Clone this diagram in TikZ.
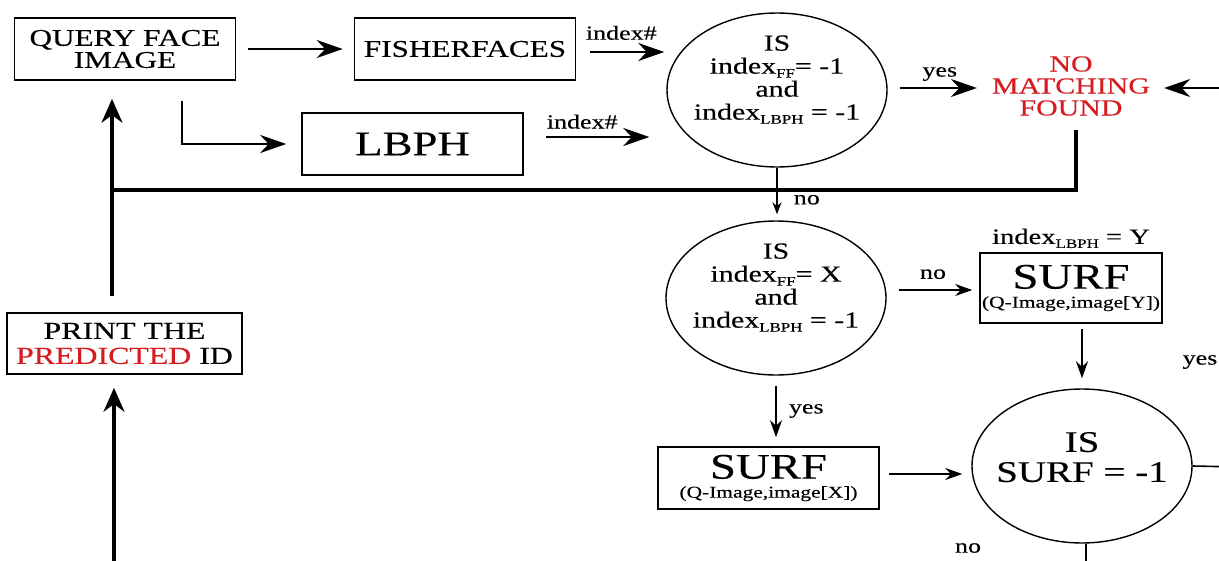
\documentclass[tikz,border=0pt]{standalone}
\usepackage{fontspec}
\setmainfont{Liberation Serif}[FakeStretch=1.3, FakeBold=0.3]
\usetikzlibrary{arrows.meta, shapes.geometric}
\definecolor{alertred}{RGB}{214,28,32}
\newcommand{\fs}[2]{\fontsize{#1}{#2}\selectfont}
\newcommand{\sub}[1]{\raisebox{-4pt}{\fs{13}{13}#1}}

\tikzset{
  box/.style={draw, line width=1.6pt, minimum width=221pt, minimum height=62pt, inner sep=0pt, align=center},
  decision/.style={draw, ellipse, line width=1.4pt, minimum width=220pt, minimum height=154pt, inner xsep=-14pt, inner ysep=-8pt, align=center, font=\fs{23}{23}},
  bigarr/.style={-{Stealth[length=26pt,width=18pt]}, line width=2.6pt},
  arr/.style={-{Stealth[length=17pt,width=12pt]}, line width=2pt},
  tinyarr/.style={-{Stealth[length=12pt,width=9pt]}, line width=1.6pt},
  backline/.style={line width=3.5pt},
  backarr/.style={backline, -{Stealth[length=24pt,width=21pt]}},
  lbl/.style={font=\fs{20}{20}, inner sep=3pt},
}

\begin{document}
\begin{tikzpicture}[x=1pt, y=-1pt]
\useasboundingbox (0,0) rectangle (1219,560);

% top row: query and the two recognisers
\node[box, font=\fs{24}{22}] (query) at (125,49) {QUERY FACE\\IMAGE};
\node[box, font=\fs{24}{24}] (fisher) at (465,49) {FISHERFACES};
\node[box, font=\fs{34.5}{34}] (lbph) at (412.5,144) {LBPH};
\node[decision] (dec1) at (777,90) {IS\\index\sub{FF}= -1\\and\\index\sub{LBPH} = -1\\[2pt]\mbox{}};
\node[font=\fs{23}{22}, text=alertred, align=center, inner sep=0pt] (nomatch) at (1071,86) {NO\\MATCHING\\FOUND};

% lower part: SURF checks
\node[decision] (dec2) at (776,298) {IS\\index\sub{FF}= X\\and\\index\sub{LBPH} = -1\\[2pt]\mbox{}};
\node[box, minimum width=182pt, minimum height=70pt, font=\fs{16.5}{19}] (surfY) at (1071,288) {{\fs{36}{36}SURF}\\(Q-Image,image[Y])};
\node[inner sep=0pt, anchor=south, font=\fs{22}{22}] (idxY) at ([yshift=4pt]surfY.north) {index\sub{LBPH} = Y};
\node[decision, font=\fs{30}{30}] (dec3) at (1082,466) {IS\\SURF = -1\\[-12pt]\mbox{}};
\node[box, font=\fs{16.5}{19}] (surfX) at (768.5,478) {{\fs{36}{36}SURF}\\(Q-Image,image[X])};

% left column
\node[box, minimum width=235pt, minimum height=61pt, font=\fs{24.5}{25}] (print) at (124.5,343.5) {PRINT THE\\\textcolor{alertred}{PREDICTED} ID};

% loose ends running off the page
\coordinate (fbr) at (1076,190);
\coordinate (fbl) at (112,190);
\coordinate (rin) at (1240,88);
\coordinate (rout) at (1240,467);
\coordinate (pin) at (114,580);
\coordinate (dbot) at (1086,580);

% connectors in the top row
\draw[bigarr, shorten <=12pt, shorten >=11pt] (query) -- (fisher);
\draw[bigarr, shorten <=20pt, shorten >=15pt] ([xshift=57pt]query.south) |- (lbph.west);
\draw[bigarr, line width=2.2pt, shorten <=14pt, shorten >=2pt] ([yshift=-3pt]fisher.east) -- ([yshift=-3pt]fisher.east -| dec1.west) node[lbl, midway, above=8pt] {index\#};
\draw[bigarr, shorten <=22pt, shorten >=17pt] ([yshift=7pt]lbph.east) -- ([yshift=7pt]lbph.east -| dec1.west) node[lbl, pos=0.41, above=4pt] {index\#};
\draw[bigarr, line width=2.2pt, shorten <=12pt, shorten >=15pt] ([yshift=2pt]dec1.east) -- ([yshift=2pt]dec1.east -| nomatch.west) node[lbl, midway, above=3pt] {yes};
\draw[bigarr, line width=2.2pt, shorten >=14pt] (rin) -- (rin -| nomatch.east);

% feedback to the query image
\draw[tinyarr, shorten >=6pt] (dec1.south) -- (dec1.south |- dec2.north) node[lbl, pos=0.61, right=13pt] {no};
\draw[backarr, shorten <=14pt, shorten >=18pt] (nomatch.south -| fbr) -- (fbr) -- (fbl) -- (query.south -| fbl);
\draw[backline, shorten <=16pt] (print.north -| fbl) -- (fbl);
\draw[backarr, shorten >=13pt] (pin) -- (pin |- print.south);

% connectors in the lower part
\draw[arr, shorten <=12pt, shorten >=7pt] ([yshift=8pt]dec2.east) -- ([yshift=8pt]dec2.east -| surfY.west) node[lbl, midway, above=7pt] {no};
\draw[arr, shorten <=10pt, shorten >=9pt] (dec2.south) -- (dec2.south |- surfX.north) node[lbl, midway, right=9pt] {yes};
\draw[arr, shorten <=5pt, shorten >=10pt] (dec3.north |- surfY.south) -- (dec3.north);
\draw[arr, shorten <=9pt, shorten >=9pt] ([yshift=4pt]surfX.east) -- ([yshift=4pt]surfX.east -| dec3.west);
\draw[line width=1.6pt] (dec3.east) -- (rout);
\draw[line width=2.2pt] (dec3.south -| dbot) -- (dbot);

% labels whose lines leave the page
\node[lbl] (yesR) at (1200,362) {yes};
\node[lbl] (noB) at (968,548) {no};

\end{tikzpicture}
\end{document}
